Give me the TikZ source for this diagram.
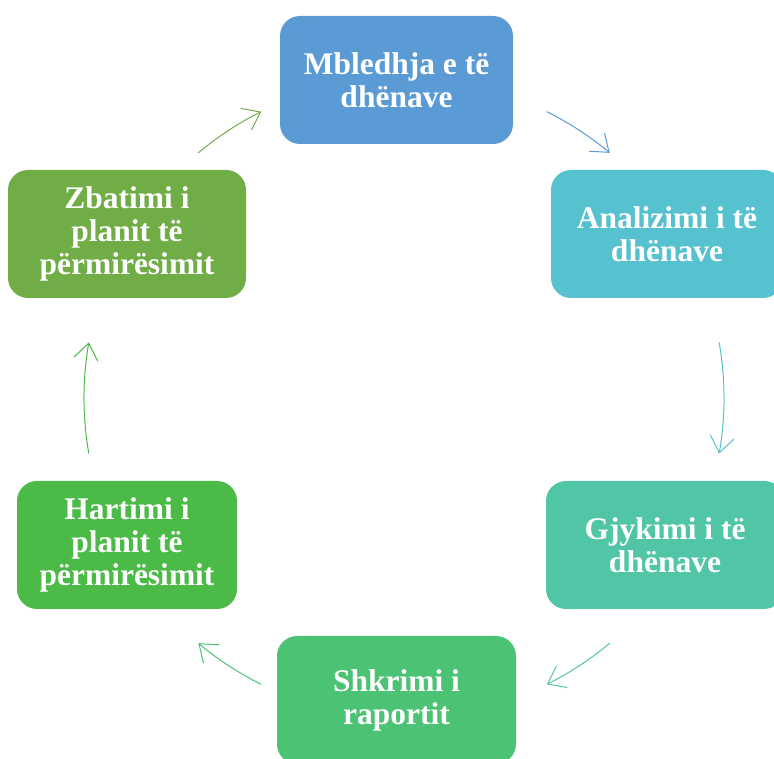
\documentclass[tikz,border=0pt]{standalone}
\usepackage{fontspec}
\setmainfont{Liberation Serif}
\usetikzlibrary{arrows.meta}
\definecolor{mbledhja}{HTML}{5B9BD5}
\definecolor{analizimi}{HTML}{56C1CF}
\definecolor{gjykimi}{HTML}{50C6A7}
\definecolor{shkrimi}{HTML}{4CC274}
\definecolor{hartimi}{HTML}{4BBA47}
\definecolor{zbatimi}{HTML}{70AD47}
\begin{document}
\begin{tikzpicture}[x=1pt,y=1pt,
  box/.style={rounded corners=20pt, text=white, align=center, inner sep=0pt,
    minimum height=128pt, font=\bfseries\fontsize{31.5}{33}\selectfont},
  cyc/.style={line width=1pt, -{Straight Barb[length=16pt,width=24pt]}}]
  \useasboundingbox (0,0) rectangle (774,758);
  \clip (0,0) rectangle (774,758);
  \coordinate (center) at (404,360);
  \node[box, fill=mbledhja, minimum width=233pt] (mbledhja) at (396.5,678) {Mbledhja e të\\dhënave};
  \node[box, fill=analizimi, minimum width=232pt] (analizimi) at (667,524) {Analizimi i të\\dhënave};
  \node[box, fill=gjykimi, minimum width=238pt] (gjykimi) at (665,213) {Gjykimi i të\\dhënave};
  \node[box, fill=shkrimi, minimum width=239pt] (shkrimi) at (396.5,58) {Shkrimi i\\raportit};
  \node[box, fill=hartimi, minimum width=220pt] (hartimi) at (127,213) {Hartimi i\\planit të\\përmirësimit};
  \node[box, fill=zbatimi, minimum width=238pt] (zbatimi) at (127,524) {Zbatimi i\\planit të\\përmirësimit};
  % arrows round the cycle
  \foreach \a/\d/\col in {63.5/13.5/mbledhja, 10/20/analizimi, -50/13.5/gjykimi,
      -116.5/13.5/shkrimi, 190/20/hartimi, 130/13.5/zbatimi}
    \draw[cyc, \col] (center) ++(\a:320) arc[start angle=\a, delta angle=-\d, radius=320];
\end{tikzpicture}
\end{document}
